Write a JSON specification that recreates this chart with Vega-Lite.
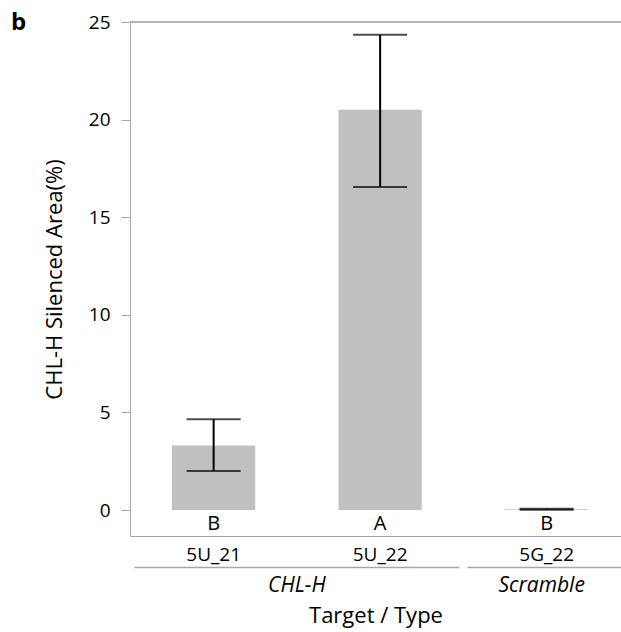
{
  "$schema": "https://vega.github.io/schema/vega-lite/v6.json",
  "autosize": "none",
  "width": 491,
  "height": 514,
  "padding": {"left": 130, "top": 22, "right": 0, "bottom": 96},
  "background": "white",
  "config": {
    "font": "Open Sans",
    "view": {"stroke": null},
    "axis": {"labelFont": "Open Sans", "titleFont": "Open Sans", "labelColor": "#000", "titleColor": "#000", "titleFontWeight": "normal", "labelFontSize": 19, "titleFontSize": 22, "domainColor": "#a6a6a6", "tickColor": "#a6a6a6", "grid": false}
  },
  "title": {"text": "b", "anchor": "start", "frame": "group", "fontSize": 24, "fontWeight": "bold", "font": "Open Sans", "baseline": "alphabetic", "offset": 0, "dx": -119, "dy": 41, "color": "#000"},
  "datasets": {
    "bars": [
      {"target": "5U_21", "type": "CHL-H", "mean": 3.3, "lo": 2.0, "hi": 4.65, "letter": "B"},
      {"target": "5U_22", "type": "CHL-H", "mean": 20.5, "lo": 16.55, "hi": 24.35, "letter": "A"},
      {"target": "5G_22", "type": "Scramble", "mean": 0.04, "lo": 0.02, "hi": 0.07, "letter": "B"}
    ],
    "groups": [
      {"type": "CHL-H", "first": "5U_21", "last": "5U_22"},
      {"type": "Scramble", "first": "5G_22", "last": "5G_22"}
    ]
  },
  "layer": [
    {
      "data": {"name": "bars"},
      "mark": {"type": "bar", "color": "#c0c0c0"},
      "encoding": {
        "x": {
          "field": "target", "type": "nominal",
          "scale": {"domain": ["5U_21", "5U_22", "5G_22"], "paddingInner": 0.5, "paddingOuter": 0.2245, "align": 0.562},
          "axis": {"title": "Target / Type", "labelAngle": 0, "ticks": false, "tickSize": 0, "labelPadding": 9, "titlePadding": 41}
        },
        "y": {
          "field": "mean", "type": "quantitative",
          "scale": {"domain": [-1.33, 25], "nice": false, "zero": false},
          "axis": {"title": "CHL-H Silenced Area(%)", "values": [0, 5, 10, 15, 20, 25], "tickSize": 9, "labelPadding": 11, "titlePadding": 22}
        }
      }
    },
    {
      "data": {"name": "bars"},
      "mark": {"type": "rule", "color": "#000", "strokeWidth": 2},
      "encoding": {
        "x": {"field": "target", "type": "nominal"},
        "y": {"field": "lo", "type": "quantitative"},
        "y2": {"field": "hi"}
      }
    },
    {
      "data": {"name": "bars"},
      "mark": {"type": "tick", "color": "#000", "thickness": 2, "size": 54, "orient": "horizontal"},
      "encoding": {
        "x": {"field": "target", "type": "nominal"},
        "y": {"field": "lo", "type": "quantitative"}
      }
    },
    {
      "data": {"name": "bars"},
      "mark": {"type": "tick", "color": "#000", "thickness": 2, "size": 54, "orient": "horizontal"},
      "encoding": {
        "x": {"field": "target", "type": "nominal"},
        "y": {"field": "hi", "type": "quantitative"}
      }
    },
    {
      "data": {"name": "bars"},
      "mark": {"type": "text", "fontSize": 20, "baseline": "alphabetic", "dy": 20, "color": "#000"},
      "encoding": {
        "x": {"field": "target", "type": "nominal"},
        "y": {"datum": 0},
        "text": {"field": "letter"}
      }
    },
    {
      "data": {"name": "bars"},
      "mark": {"type": "rule", "color": "#a6a6a6", "strokeWidth": 1},
      "encoding": {"y": {"datum": 25}}
    },
    {
      "data": {"name": "groups"},
      "mark": {"type": "rule", "color": "#a6a6a6", "strokeWidth": 1.5, "clip": false},
      "encoding": {
        "x": {"field": "first", "type": "nominal", "bandPosition": -0.45},
        "x2": {"field": "last", "bandPosition": 1.45},
        "y": {"datum": -2.95}
      }
    },
    {
      "data": {"name": "groups"},
      "transform": [{"filter": "datum.type === 'CHL-H'"}],
      "mark": {"type": "text", "fontSize": 21, "fontStyle": "italic", "baseline": "alphabetic", "color": "#000", "clip": false},
      "encoding": {
        "x": {"field": "first", "type": "nominal", "bandPosition": 1.5},
        "y": {"datum": -4.2},
        "text": {"field": "type"}
      }
    },
    {
      "data": {"name": "groups"},
      "transform": [{"filter": "datum.type === 'Scramble'"}],
      "mark": {"type": "text", "fontSize": 21, "fontStyle": "italic", "baseline": "alphabetic", "color": "#000", "clip": false, "dx": -5},
      "encoding": {
        "x": {"field": "first", "type": "nominal", "bandPosition": 0.5},
        "y": {"datum": -4.2},
        "text": {"field": "type"}
      }
    }
  ]
}
